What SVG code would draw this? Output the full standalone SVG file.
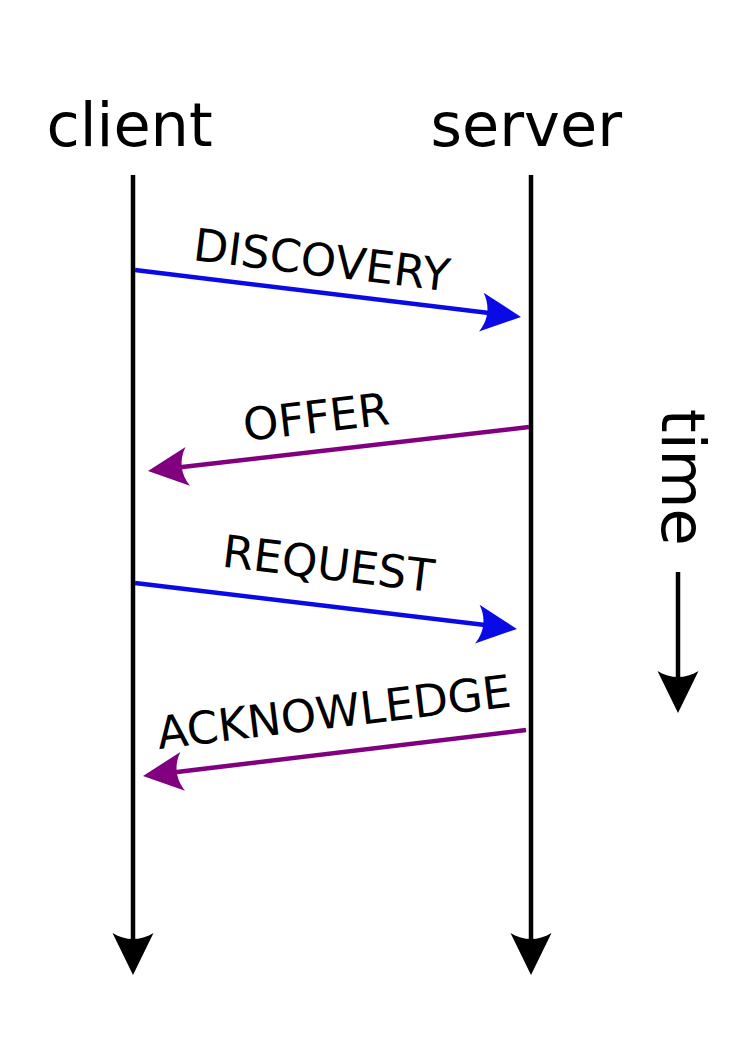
<svg xmlns="http://www.w3.org/2000/svg" width="736" height="1040" viewBox="0 0 736 1040">
  <style>
    .lbl { font-family: "DejaVu Sans", "Liberation Sans", sans-serif; fill: #000; }
    .big { font-size: 60.5px; }
    .msg { font-size: 45px; }
    .life { stroke: #000; stroke-width: 4.5; fill: none; }
    .blue { stroke: #0a0ae6; stroke-width: 4.5; fill: none; }
    .purple { stroke: #800080; stroke-width: 4.5; fill: none; }
  </style>
  <defs>
    <marker id="ah-blue" viewBox="-14 -22 46 44" refX="0" refY="0" markerWidth="46" markerHeight="44" markerUnits="userSpaceOnUse" orient="auto">
      <path d="M28,0 L-12,-19.5 C-4,-7 -4,7 -12,19.5 Z" fill="#0a0ae6"/>
    </marker>
    <marker id="ah-purple" viewBox="-14 -22 46 44" refX="0" refY="0" markerWidth="46" markerHeight="44" markerUnits="userSpaceOnUse" orient="auto">
      <path d="M28,0 L-12,-19.5 C-4,-7 -4,7 -12,19.5 Z" fill="#800080"/>
    </marker>
    <marker id="ah-black" viewBox="-14 -22 46 44" refX="0" refY="0" markerWidth="46" markerHeight="44" markerUnits="userSpaceOnUse" orient="auto">
      <path d="M30,0 L-12,-20.5 C-4,-7 -4,7 -12,20.5 Z" fill="#000"/>
    </marker>
  </defs>
  <rect x="0" y="0" width="736" height="1040" fill="#fff"/>

  <g id="client">
    <text class="lbl big" x="46.5" y="146">client</text>
  </g>
  <g id="server">
    <text class="lbl big" x="430.5" y="146">server</text>
  </g>
  <g id="time">
    <text class="lbl big" transform="translate(662,409) rotate(90)">time</text>
  </g>

  <g id="connectors">
    <line class="life" x1="133" y1="175" x2="133" y2="945" marker-end="url(#ah-black)"/>
    <line class="life" x1="531" y1="175" x2="531" y2="945" marker-end="url(#ah-black)"/>
    <line class="life" x1="678" y1="572" x2="678" y2="683" marker-end="url(#ah-black)"/>
    <line id="discovery-arrow" class="blue" x1="135" y1="270" x2="493.2" y2="313.6" marker-end="url(#ah-blue)"/>
    <line id="offer-arrow" class="purple" x1="529" y1="427" x2="175.8" y2="467.8" marker-end="url(#ah-purple)"/>
    <line id="request-arrow" class="blue" x1="135" y1="583" x2="489.2" y2="625.6" marker-end="url(#ah-blue)"/>
    <line id="ack-arrow" class="purple" x1="526" y1="730" x2="170.8" y2="772.7" marker-end="url(#ah-purple)"/>
  </g>

  <g id="labels">
    <text class="lbl msg" transform="translate(192,260) rotate(7)">DISCOVERY</text>
    <text class="lbl msg" transform="translate(245,441) rotate(-6.6)">OFFER</text>
    <text class="lbl msg" transform="translate(221,566.5) rotate(6.9)">REQUEST</text>
    <text class="lbl msg" transform="translate(159,749) rotate(-6.9)">ACKNOWLEDGE</text>
  </g>
</svg>
